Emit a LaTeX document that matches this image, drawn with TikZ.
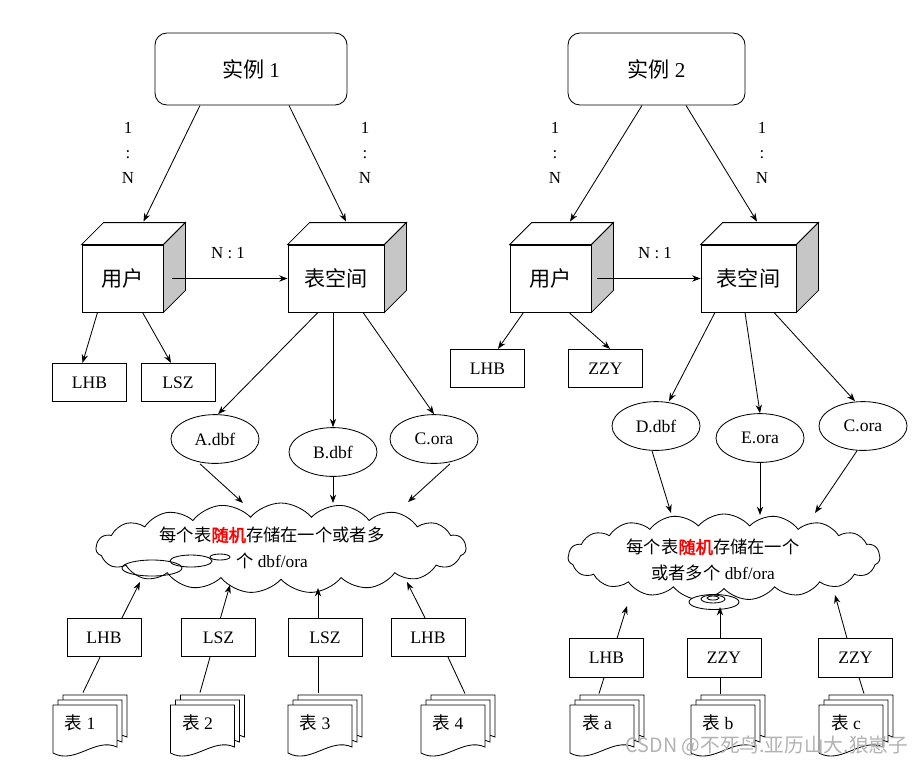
\documentclass[tikz,border=0pt]{standalone}
\usepackage{fontspec}
\setmainfont{Liberation Serif}
\newfontfamily\cjk{Noto Sans CJK SC}[AutoFakeBold=2.5]
\usepackage{xcolor}
\usepackage{tikz}
\usetikzlibrary{shapes.geometric, shapes.symbols, arrows.meta, positioning, calc}
\newcommand{\bigfont}{\fontsize{15}{18}\selectfont}
\newcommand{\midfont}{\fontsize{12.5}{15}\selectfont}
\newcommand{\cloudfont}{\fontsize{12.3}{18.5}\selectfont}
\tikzstyle{instance} = [rectangle, rounded corners=0.3cm, draw=black, minimum height=1.8cm, font=\bigfont]
\tikzstyle{cube} = [rectangle, draw=black, fill=white, minimum height=1.675cm, font=\bigfont\cjk]
\tikzstyle{owner} = [rectangle, draw=black, minimum width=1.85cm, minimum height=0.96cm, font=\midfont]
\tikzstyle{datafile} = [ellipse, draw=black, minimum width=2.2cm, minimum height=1.22cm, inner sep=0pt, font=\midfont]
\tikzstyle{store} = [cloud, cloud puffs=19, cloud puff arc=100, cloud ignores aspect, draw=black, fill=white, inner sep=0pt]
\tikzstyle{storetext} = [align=center, font=\cloudfont]
\tikzstyle{ratio} = [align=center, font=\fontsize{12}{17.8}\selectfont]
\tikzstyle{docpage} = [rectangle, minimum width=1.6cm, minimum height=1.25cm]
\tikzstyle{arrow} = [->, >={Stealth[length=6pt, width=4.5pt]}]
\tikzstyle{link} = [-]
% top and side face of a cube node
\newcommand{\cubeside}[1]{
  \draw[fill=white] (#1.north west) -- ++(22,-22) -- ([shift={(22,-22)}]#1.north east) -- (#1.north east) -- cycle;
  \draw[fill=gray!45] (#1.north east) -- ++(22,-22) -- ([shift={(22,-22)}]#1.south east) -- (#1.south east) -- cycle;
}
% stack of three table pages
\newcommand{\docstack}[4]{
  \foreach \d in {10,5,0}
    \draw[fill=white, shift={(#2+\d,#3-\d)}] (-32,-25) -- (32,-25) -- (32,17) .. controls (10,7) and (-10,35) .. (-32,23) -- cycle;
  \node[docpage] (#1) at (#2,#3) {};
  \node[font=\midfont] (#1l) at ([shift={(-5,-7)}]#1.center) {#4};
}

\begin{document}
\begin{tikzpicture}[x=0.025cm, y=-0.025cm, line width=0.6pt]
      \useasboundingbox (0,0) rectangle (924,765);

      % Instance 1
      \node[instance, minimum width=4.8cm] (inst1) at (251,69) {{\cjk 实例} 1};
      \node[ratio] (r1) at (128,153) {1\\:\\N};
      \node[ratio] (r2) at (365,153) {1\\:\\N};

      % Users and tablespace
      \node[cube, minimum width=2.025cm] (user1) at (122.5,278.5) {用户};
      \cubeside{user1}
      \node[cube, minimum width=2.4cm] (ts1) at (336,278.5) {表空间};
      \cubeside{ts1}
      \node[ratio] (r3) at (228,253) {N : 1};

      \node[owner] (lhb1) at (89.5,382.5) {LHB};
      \node[owner] (lsz1) at (178,382.5) {LSZ};

      % Data files
      \node[datafile] (adbf) at (215,439) {A.dbf};
      \node[datafile] (bdbf) at (333,452) {B.dbf};
      \node[datafile] (cora1) at (434,439) {C.ora};

      % Cloud
      \node[store, minimum width=9.25cm, minimum height=2.25cm] (cloud1) at (281,548) {};
      \draw (152,568) ellipse (30 and 8);
      \draw (191,561) ellipse (21 and 6);
      \draw (220,557) ellipse (10 and 3);
      \node[storetext] (cloud1t) at (272,548)
        {{\cjk 每个表\textcolor{red}{\bfseries 随机}存储在一个或者多}\\{\cjk 个} dbf/ora};

      % Tables with owners
      \node[owner] (lhb2) at (104,637.5) {LHB};
      \node[owner] (lsz2) at (218.5,637.5) {LSZ};
      \node[owner] (lsz3) at (325,637.5) {LSZ};
      \node[owner] (lhb4) at (428,637.5) {LHB};
      \docstack{doc1}{85}{730}{{\cjk 表} 1}
      \docstack{doc2}{202.5}{730}{{\cjk 表} 2}
      \docstack{doc3}{320}{730}{{\cjk 表} 3}
      \docstack{doc4}{453}{730}{{\cjk 表} 4}

      % Connectors left
      \draw[arrow] ([shift={(-51,0)}]inst1.south) -- ([shift={(21,-23)}]user1.north);
      \draw[arrow] ([shift={(38,0)}]inst1.south) -- ([shift={(10,-23)}]ts1.north);
      \draw[arrow] ([shift={(9,0)}]user1.east) -- (ts1.west);
      \draw[arrow] ([shift={(-25,0)}]user1.south) -- ([shift={(-7,0)}]lhb1.north);
      \draw[arrow] ([shift={(20,0)}]user1.south) -- ([shift={(-7,0)}]lsz1.north);
      \draw[arrow] ([shift={(-18,0)}]ts1.south) -- ([shift={(3,0)}]adbf.north);
      \draw[arrow] ([shift={(-3,0)}]ts1.south) -- (bdbf.north);
      \draw[arrow] ([shift={(27,0)}]ts1.south) -- (cora1.north);
      \draw[arrow] ([shift={(-15,0)}]adbf.south) -- ([shift={(-38,-45)}]cloud1.center);
      \draw[arrow] (bdbf.south) -- ([shift={(52,-45)}]cloud1.center);
      \draw[arrow] ([shift={(16,0)}]cora1.south) -- ([shift={(127,-46)}]cloud1.center);
      \draw[arrow] ([shift={(18,0)}]lhb2.north) -- ([shift={(-141,34)}]cloud1.center);
      \draw[arrow] ([shift={(2,0)}]lsz2.north) -- ([shift={(-51,37)}]cloud1.center);
      \draw[arrow] ([shift={(-7,0)}]lsz3.north) -- ([shift={(37,40)}]cloud1.center);
      \draw[arrow] ([shift={(-3,0)}]lhb4.north) -- ([shift={(126,34)}]cloud1.center);
      \draw[link] ([shift={(-4,0)}]lhb2.south) -- ([shift={(-2,-12)}]doc1.north);
      \draw[link] ([shift={(-8.5,0)}]lsz2.south) -- ([shift={(-2.5,-12)}]doc2.north);
      \draw[link] ([shift={(-7,0)}]lsz3.south) -- ([shift={(-2,-12)}]doc3.north);
      \draw[link] ([shift={(20,0)}]lhb4.south) -- ([shift={(12,-11)}]doc4.north);

      % Instance 2
      \node[instance, minimum width=4.425cm] (inst2) at (656.5,69) {{\cjk 实例} 2};
      \node[ratio] (r4) at (555,153) {1\\:\\N};
      \node[ratio] (r5) at (762,153) {1\\:\\N};

      \node[cube, minimum width=2.025cm] (user2) at (550.5,278.5) {用户};
      \cubeside{user2}
      \node[cube, minimum width=2.375cm] (ts2) at (748.5,278.5) {表空间};
      \cubeside{ts2}
      \node[ratio] (r6) at (655,253) {N : 1};

      \node[owner] (lhb3) at (487.5,368.5) {LHB};
      \node[owner] (zzy1) at (605.5,368.5) {ZZY};

      \node[datafile] (ddbf) at (656,426) {D.dbf};
      \node[datafile] (eora) at (760,438) {E.ora};
      \node[datafile] (cora2) at (863,426) {C.ora};

      \node[store, minimum width=7.8cm, minimum height=2.15cm] (cloud2) at (724,557) {};
      \node[storetext] (cloud2t) at (713,560)
        {{\cjk 每个表\textcolor{red}{\bfseries 随机}存储在一个}\\{\cjk 或者多个} dbf/ora};
      \draw[fill=white] (714,602) ellipse (25 and 7.5);
      \draw (713,599) ellipse (12 and 4);
      \draw (713,598) ellipse (6 and 2);

      \node[owner] (lhb5) at (606.5,658) {LHB};
      \node[owner] (zzy2) at (724,658) {ZZY};
      \node[owner] (zzy3) at (855.5,658) {ZZY};
      \docstack{doca}{602}{730}{{\cjk 表} a}
      \docstack{docb}{723}{730}{{\cjk 表} b}
      \docstack{docc}{851}{730}{{\cjk 表} c}

      % Connectors right
      \draw[arrow] ([shift={(-14.5,0)}]inst2.south) -- ([shift={(19.5,-23)}]user2.north);
      \draw[arrow] ([shift={(29.5,0)}]inst2.south) -- ([shift={(8.5,-23)}]ts2.north);
      \draw[arrow] ([shift={(6,0)}]user2.east) -- (ts2.west);
      \draw[arrow] ([shift={(-27,0)}]user2.south) -- ([shift={(10.5,0)}]lhb3.north);
      \draw[arrow] ([shift={(18.5,0)}]user2.south) -- ([shift={(4.5,0)}]zzy1.north);
      \draw[arrow] ([shift={(-33.5,0)}]ts2.south) -- ([shift={(13,0)}]ddbf.north);
      \draw[arrow] ([shift={(-3.5,0)}]ts2.south) -- (eora.north);
      \draw[arrow] ([shift={(25.5,0)}]ts2.south) -- ([shift={(-8,0)}]cora2.north);
      \draw[arrow] ([shift={(-4,0)}]ddbf.south) -- ([shift={(-53,-44)}]cloud2.center);
      \draw[arrow] (eora.south) -- ([shift={(36,-42)}]cloud2.center);
      \draw[arrow] ([shift={(-6,0)}]cora2.south) -- ([shift={(91,-44)}]cloud2.center);
      \draw[arrow] ([shift={(10.5,0)}]lhb5.north) -- ([shift={(-97,49)}]cloud2.center);
      \draw[arrow] ([shift={(-4,0)}]zzy2.north) -- ([shift={(-4,50)}]cloud2.center);
      \draw[arrow] ([shift={(-8.5,0)}]zzy3.north) -- ([shift={(111,38)}]cloud2.center);
      \draw[link] ([shift={(-2.5,0)}]lhb5.south) -- ([shift={(-3,-11)}]doca.north);
      \draw[link] ([shift={(-4,0)}]zzy2.south) -- ([shift={(-3,-11)}]docb.north);
      \draw[link] ([shift={(3.5,0)}]zzy3.south) -- ([shift={(13,-11)}]docc.north);

      % Watermark
      \node[text=gray!60, font=\cjk\fontsize{14}{16}\selectfont] (mark) at (767,746) {CSDN @不死鸟.亚历山大.狼崽子};
    \end{tikzpicture}
\end{document}
